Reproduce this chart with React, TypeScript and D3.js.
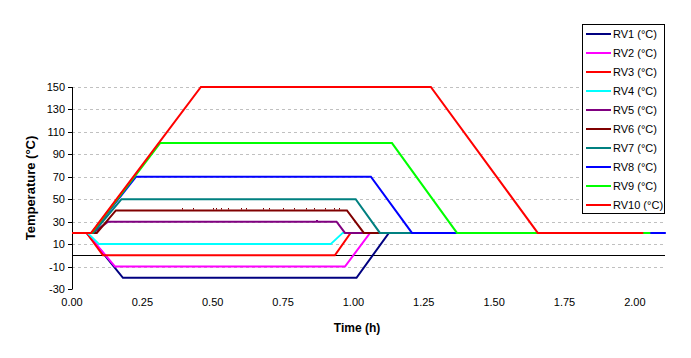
import React from "react";
import * as d3 from "d3";

type Pt = [number, number];

const seriesNames = ["RV1 (°C)", "RV2 (°C)", "RV3 (°C)", "RV4 (°C)", "RV5 (°C)", "RV6 (°C)", "RV7 (°C)", "RV8 (°C)", "RV9 (°C)", "RV10 (°C)"];
const seriesColors = ["#000080", "#ff00ff", "#ff0000", "#00ffff", "#800080", "#800000", "#008080", "#0000ff", "#00ff00", "#ff0000"];

const rv1: Pt[] = [[0, 20], [0.052, 20], [0.181, -20], [1.011, -20], [1.126, 20], [2.0, 20]];
const rv2: Pt[] = [[0, 20], [0.052, 20], [0.153, -10], [0.97, -10], [1.059, 20], [2.0, 20]];
const rv3: Pt[] = [[0, 20], [0.052, 20], [0.11, 0], [0.934, 0], [0.99, 20], [2.0, 20]];
const rv4: Pt[] = [[0, 20], [0.055, 20], [0.096, 10], [0.919, 10], [0.962, 20], [2.0, 20]];
const rv5: Pt[] = [[0, 20], [0.075, 20], [0.128, 30], [0.94, 30], [0.97, 20], [2.0, 20]];
const rv6: Pt[] = [[0, 20], [0.088, 20], [0.156, 40], [0.977, 40], [1.037, 20], [2.0, 20]];
const rv7: Pt[] = [[0, 20], [0.075, 20], [0.176, 50], [1.008, 50], [1.094, 20], [2.0, 20]];
const rv8: Pt[] = [[0, 20], [0.07, 20], [0.227, 70], [1.062, 70], [1.208, 20], [2.11, 20]];
const rv9: Pt[] = [[0, 20], [0.07, 20], [0.313, 100], [1.137, 100], [1.368, 20], [2.055, 20]];
const rv10: Pt[] = [[0, 20], [0.068, 20], [0.458, 150], [1.275, 150], [1.655, 20], [2.03, 20]];
const seriesData: Pt[][] = [rv1, rv2, rv3, rv4, rv5, rv6, rv7, rv8, rv9, rv10];

// small noise spikes on the RV6 and RV5 plateaus (time, value)
const rv6Spikes: Pt[] = [[0.11 + 0.28, 41], [0.43, 41], [0.5, 41], [0.51, 41], [0.53, 41], [0.555, 41], [0.6, 41], [0.62, 41], [0.68, 41], [0.7, 41], [0.75, 41], [0.79, 41], [0.83, 41], [0.86, 41], [0.9, 41], [0.93, 41], [0.95, 41]];
const rv5Spikes: Pt[] = [[0.866, 31], [0.872, 31]];

const yTicks = [-30, -10, 10, 30, 50, 70, 90, 110, 130, 150];
const xTicks = [0, 0.25, 0.5, 0.75, 1.0, 1.25, 1.5, 1.75, 2.0];
const gridValues = [-10, 10, 30, 50, 70, 90, 110, 130, 150];

export default function App() {
  const W = 691, H = 358;
  const x = d3.scaleLinear().domain([0, 2.1]).range([72, 663]);
  const y = d3.scaleLinear().domain([-30, 150]).range([289, 87]);
  const line = d3.line<Pt>().x(d => x(d[0])).y(d => y(d[1]));
  const font = "'Liberation Sans', Arial, sans-serif";

  const spike = (p: Pt, base: number, color: string, key: string) => (
    <rect key={key} x={Math.round(x(p[0]))} y={Math.round(y(base)) - 2} width={1} height={1.5} fill={color} />
  );

  return (
    <svg width={W} height={H} style={{ position: "absolute", left: 0, top: 0, background: "#fff" }} fontFamily={font}>
      <rect x={0} y={0} width={W} height={H} fill="#fff" />
      {gridValues.map(v => (
        <line key={"g" + v} x1={x(0)} x2={x(2.1)} y1={Math.round(y(v)) + 0.5} y2={Math.round(y(v)) + 0.5} stroke="#c0c0c0" strokeDasharray="3,3" />
      ))}
      {/* zero line */}
      <line x1={x(0)} x2={x(2.1) + 2} y1={Math.round(y(0)) + 0.5} y2={Math.round(y(0)) + 0.5} stroke="#000" />
      {/* y axis */}
      <line x1={72.5} x2={72.5} y1={y(150)} y2={y(-30) + 0.5} stroke="#000" />
      {yTicks.map(v => (
        <g key={"yt" + v}>
          <line x1={68} x2={72} y1={Math.round(y(v)) + 0.5} y2={Math.round(y(v)) + 0.5} stroke="#000" />
          <text x={65} y={y(v) + 4} fontSize={11} textAnchor="end">{v}</text>
        </g>
      ))}
      {xTicks.map(v => (
        <text key={"xt" + v} x={x(v)} y={306} fontSize={11} textAnchor="middle">{v.toFixed(2)}</text>
      ))}
      <text x={357} y={332} fontSize={12} fontWeight="bold" textAnchor="middle">Time (h)</text>
      <text transform={`translate(35,188) rotate(-90)`} fontSize={13} fontWeight="bold" textAnchor="middle">Temperature (°C)</text>
      {/* series */}
      {seriesData.map((s, i) => (
        <path key={"s" + i} d={line(s) || ""} fill="none" stroke={seriesColors[i]} strokeWidth={2} strokeLinejoin="miter" />
      ))}
      {rv6Spikes.map((p, i) => spike(p, 40, seriesColors[5], "sp6" + i))}
      {rv5Spikes.map((p, i) => spike(p, 30, seriesColors[4], "sp5" + i))}
      {/* legend */}
      <rect x={582.5} y={24.5} width={82} height={189} fill="#fff" stroke="#000" />
      {seriesNames.map((n, i) => (
        <g key={"l" + i}>
          <line x1={586} x2={611} y1={34 + 19 * i} y2={34 + 19 * i} stroke={seriesColors[i]} strokeWidth={2} />
          <text x={613} y={34 + 19 * i + 4} fontSize={11}>{n}</text>
        </g>
      ))}
    </svg>
  );
}
